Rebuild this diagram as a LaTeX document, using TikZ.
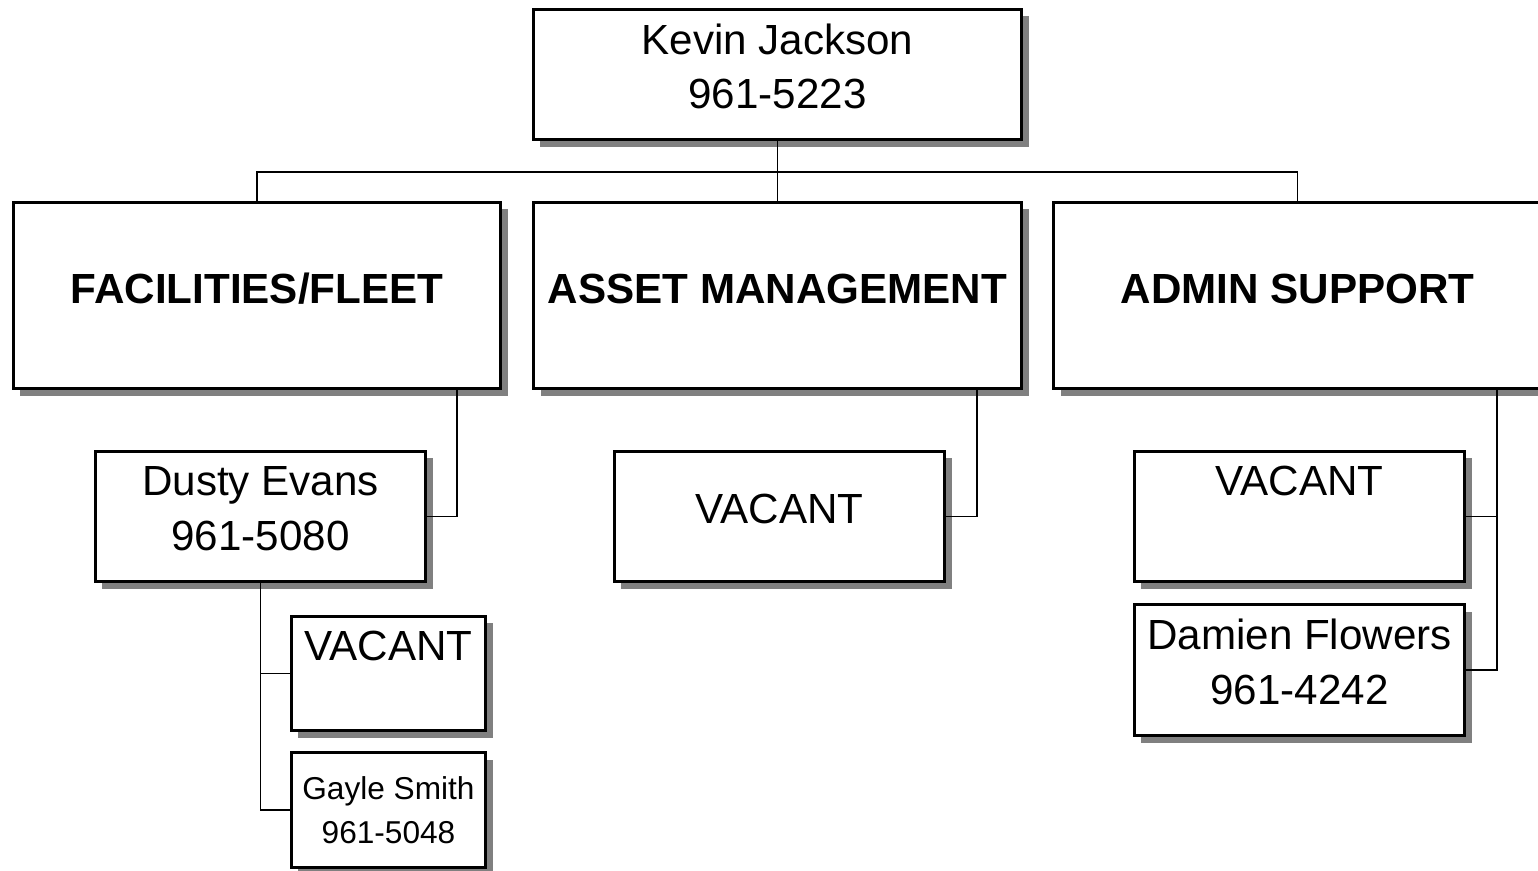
\documentclass[tikz,border=0pt]{standalone}
\usepackage{fontspec}
\setmainfont{Liberation Sans}
\usepackage{tikz}
\usetikzlibrary{positioning,shadows}
\newcommand{\deepstrut}{\rule[-12.7pt]{0pt}{34.4pt}}

\begin{document}
\begin{tikzpicture}[x=0.02cm, y=-0.02cm,
    box/.style={draw, line width=1.7pt, fill=white, align=center, inner sep=0pt,
      drop shadow={shadow xshift=4.2pt, shadow yshift=-4.2pt, fill=gray, opacity=1},
      font=\fontsize{24}{31}\selectfont},
    bigbox/.style={box, minimum width=9.78cm, minimum height=2.62cm},
    headbox/.style={box, minimum width=9.76cm, minimum height=3.74cm, font=\fontsize{24}{31}\selectfont\bfseries},
    midbox/.style={box, minimum width=6.62cm, minimum height=2.62cm},
    smallbox/.style={box, minimum width=3.9cm, minimum height=2.3cm},
    link/.style={line width=1.1pt}]
  \useasboundingbox (0,0) rectangle (1538,871);
  % Head
  \node[bigbox] (kevin) at (777.5,74.5) {Kevin Jackson\\961-5223\strut};
  % Departments
  \node[headbox] (fac) at (257,295.5) {FACILITIES/FLEET\deepstrut};
  \node[headbox] (asset) at (777.5,295.5) {ASSET MANAGEMENT\deepstrut};
  \node[headbox] (adm) at (1297.5,295.5) {ADMIN SUPPORT\deepstrut};
  % Staff
  \node[midbox] (dusty) at (260.5,516.5) {Dusty Evans\\961-5080\strut};
  \node[midbox] (avac) at (779.5,516.5) {VACANT\rule[-13.8pt]{0pt}{35.5pt}};
  \node[midbox] (advac) at (1299.5,516.5) {VACANT\\\strut};
  \node[midbox] (damien) at (1299.5,670) {Damien Flowers\\961-4242\strut};
  \node[smallbox] (fvac) at (388.5,673.5) {VACANT\\\mbox{}};
  \node[smallbox, font=\fontsize{18}{25}\selectfont] (gayle) at (388.5,810) {Gayle Smith\\961-5048};
  % Lines from head
  \coordinate (bus) at (777.5,172);
  \draw[link] (kevin.south) -- (asset.north);
  \draw[link] (fac.north) |- (bus) -| (adm.north);
  % Lines to staff
  \draw[link] ([xshift=-0.9cm]fac.south east) |- (dusty.east);
  \draw[link] ([xshift=-0.92cm]asset.south east) |- (avac.east);
  \coordinate (admdrop) at ([xshift=-0.92cm]adm.south east);
  \draw[link] (admdrop) |- (damien.east);
  \draw[link] (advac.east) -| (admdrop);
  \draw[link] (dusty.south) |- (gayle.west);
  \draw[link] (fvac.west) -| (dusty.south);
\end{tikzpicture}
\end{document}
